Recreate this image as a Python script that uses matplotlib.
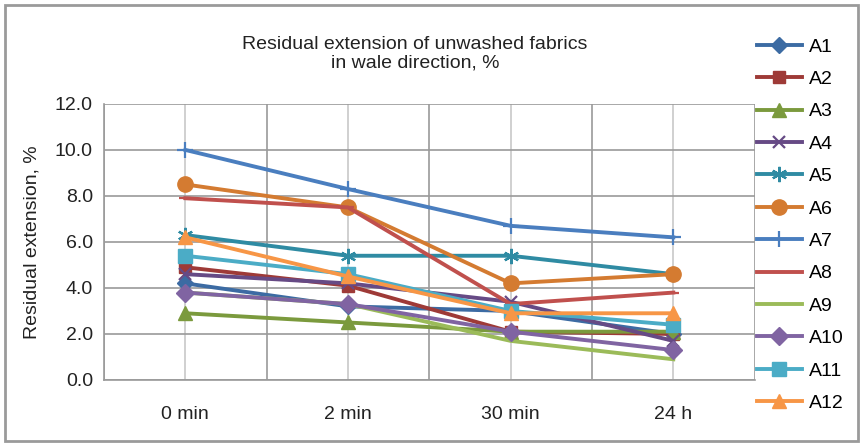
import matplotlib.pyplot as plt
from matplotlib.patches import Rectangle

plt.rcParams['font.family'] = ['Liberation Sans', 'DejaVu Sans']

categories = ['0 min', '2 min', '30 min', '24 h']
series_names = ['A1', 'A2', 'A3', 'A4', 'A5', 'A6', 'A7', 'A8', 'A9', 'A10', 'A11', 'A12']
a1 = [4.2, 3.2, 3.0, 2.0]
a2 = [4.9, 4.1, 2.1, 2.0]
a3 = [2.9, 2.5, 2.1, 2.1]
a4 = [4.6, 4.2, 3.4, 1.7]
a5 = [6.3, 5.4, 5.4, 4.6]
a6 = [8.5, 7.5, 4.2, 4.6]
a7 = [10.0, 8.3, 6.7, 6.2]
a8 = [7.9, 7.5, 3.3, 3.8]
a9 = [3.8, 3.3, 1.7, 0.9]
a10 = [3.8, 3.3, 2.1, 1.3]
a11 = [5.4, 4.6, 3.0, 2.4]
a12 = [6.2, 4.5, 2.9, 2.9]
values = [a1, a2, a3, a4, a5, a6, a7, a8, a9, a10, a11, a12]

colors = ['#3C6BA3', '#9E3A37', '#7B9A3D', '#664A85', '#2F8BA3', '#D47B31',
          '#4A7EBF', '#C0504D', '#9BBB59', '#8064A2', '#4BACC6', '#F79646']
markers = ['D', 's', '^', 'x', (6, 2, 0), 'o', '+', '_', None, 'D', 's', '^']
msizes = [8, 9, 10, 9, 11, 11, 12, 9, 0, 9, 10, 10]

fig = plt.figure(figsize=(8.63, 4.46), dpi=100)
fig.patches.append(Rectangle((0.006, 0.012), 0.988, 0.976, transform=fig.transFigure,
                             fill=False, edgecolor='#9a9a9a', linewidth=2))
ax = fig.add_axes([0.1205, 0.148, 0.754, 0.619])

x = list(range(len(categories)))
handles = []
for name, vals, c, m, ms in zip(series_names, values, colors, markers, msizes):
    h, = ax.plot(x, vals, color=c, lw=2.8, marker=m, markersize=ms,
                 markeredgewidth=1.6 if m in ('x', '+', (6, 2, 0), '_') else 1,
                 markeredgecolor=c, markerfacecolor=c, label=name, zorder=3)
    handles.append(h)

ax.set_xlim(-0.5, 3.5)
ax.set_ylim(0, 12)
ax.set_yticks([0, 2, 4, 6, 8, 10, 12])
ax.set_yticklabels([f'{v:.1f}' for v in [0, 2, 4, 6, 8, 10, 12]])
ax.set_xticks(x)
ax.set_xticklabels(categories)
ax.set_xticks([-0.5, 0.5, 1.5, 2.5, 3.5], minor=True)
ax.grid(axis='y', color='#9a9a9a', lw=1.2)
ax.grid(axis='x', which='major', color='#c8c8c8', lw=1.2)
ax.grid(axis='x', which='minor', color='#9a9a9a', lw=1.2)
ax.set_axisbelow(True)
ax.tick_params(axis='both', which='both', length=0, labelsize=14, colors='#222222')
ax.tick_params(axis='x', pad=19)
ax.tick_params(axis='y', pad=8)
for s in ['top', 'right']:
    ax.spines[s].set_visible(False)
for s in ['left', 'bottom']:
    ax.spines[s].set_color('#9a9a9a')
    ax.spines[s].set_linewidth(1.2)

ax.set_ylabel('Residual extension, %', fontsize=14, color='#222222', labelpad=10)
fig.text(0.481, 0.880, 'Residual extension of unwashed fabrics\nin wale direction, %',
         ha='center', va='center', fontsize=14, color='#222222', linespacing=1.12)

fig.legend(handles=handles, loc='upper left', bbox_to_anchor=(0.868, 0.932),
           frameon=False, fontsize=14, handlelength=2.3, labelspacing=0.76,
           handletextpad=0.4, borderaxespad=0)

fig.savefig('out.png', dpi=100)
